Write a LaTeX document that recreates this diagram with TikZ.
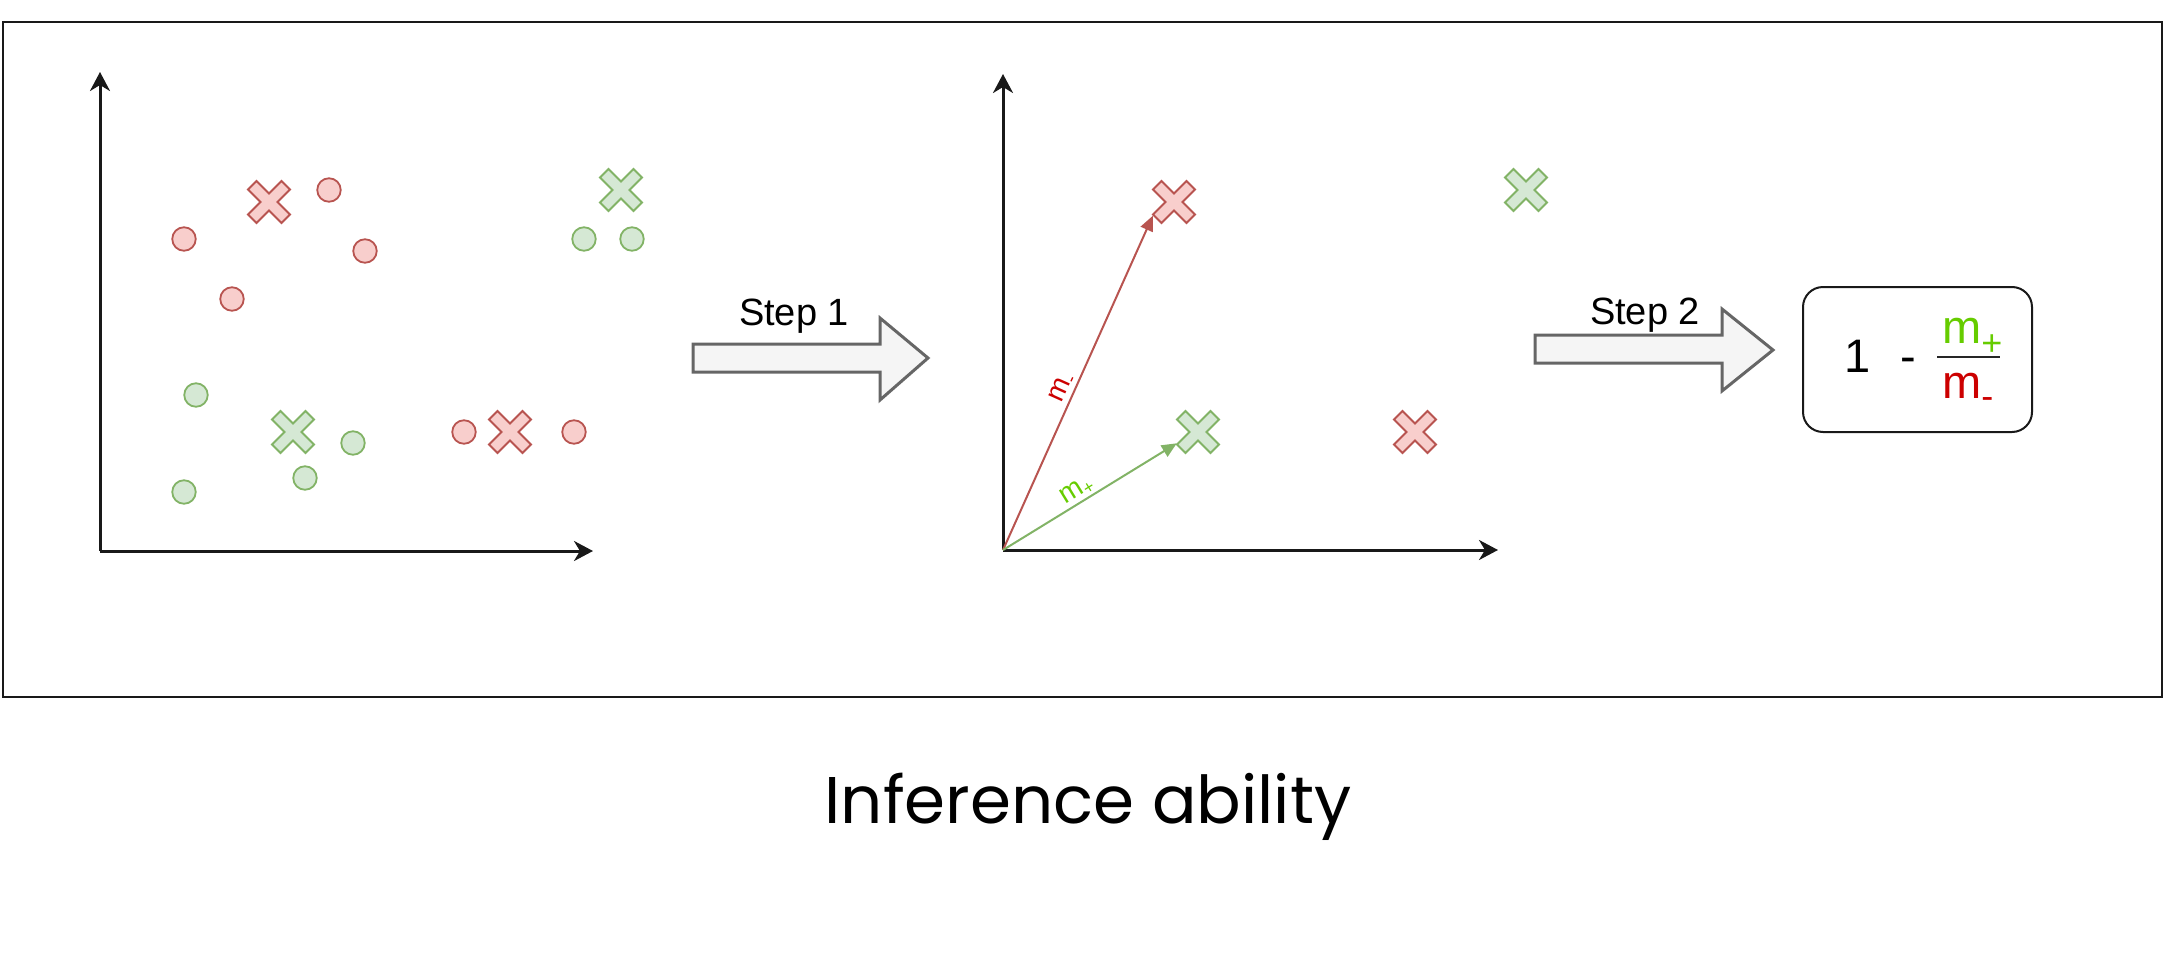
\documentclass[tikz,border=0pt]{standalone}
\usepackage{fontspec}
\setmainfont{Liberation Sans}
\newfontfamily\titlefont{Poppins}
\usetikzlibrary{arrows.meta}
\definecolor{rstroke}{HTML}{B85450}
\definecolor{rfill}{HTML}{F8CECC}
\definecolor{gstroke}{HTML}{82B366}
\definecolor{gfill}{HTML}{D5E8D4}
\definecolor{mred}{HTML}{CC0000}
\definecolor{mgreen}{HTML}{66CC00}
\definecolor{arrgray}{HTML}{666666}
\definecolor{arrfill}{HTML}{F5F5F5}
\tikzset{
  xm/.pic={\path[pic actions, line width=1.8pt, line join=miter]
    (8.5,0)--(21,12.5)--(12.5,21)--(0,8.5)--(-12.5,21)--(-21,12.5)--(-8.5,0)
    --(-21,-12.5)--(-12.5,-21)--(0,-8.5)--(12.5,-21)--(21,-12.5)--cycle;},
  xbox/.style={minimum size=42pt, inner sep=0pt},
  redx/.style={draw=rstroke, fill=rfill},
  greenx/.style={draw=gstroke, fill=gfill},
  rdot/.style={circle, draw=rstroke, fill=rfill, line width=1.8pt, minimum size=23.5pt, inner sep=0pt},
  gdot/.style={circle, draw=gstroke, fill=gfill, line width=1.8pt, minimum size=23.5pt, inner sep=0pt},
  axis/.style={line width=3pt, draw=black!90, -{Stealth[length=19pt,width=20pt,inset=6pt]}},
  rvec/.style={draw=rstroke, line width=2pt, -{Triangle[length=15pt,width=13pt]}},
  gvec/.style={draw=gstroke, line width=2pt, -{Triangle[length=15pt,width=13pt]}},
  blockarrow/.style={draw=arrgray, fill=arrfill, line width=3pt, line join=miter},
  steplabel/.style={anchor=base, inner sep=0pt, font=\fontsize{38}{40}\selectfont, text=black},
  veclabel/.style={sloped, above=1pt, inner sep=0pt, font=\fontsize{28}{30}\selectfont},
  formula/.style={inner sep=0pt, font=\fontsize{47}{50}\selectfont},
  resbox/.style={draw=black!90, line width=2pt, rounded corners=20pt, minimum width=229pt, minimum height=145pt, inner sep=0pt},
}
\newcommand\xmk[3]{\node[xbox] (#1) at (#2) {}; \pic[#3] at (#1) {xm};}
\begin{document}
\begin{tikzpicture}[x=1pt, y=-1pt]
\useasboundingbox (0,0) rectangle (2172,953);
% frame
\draw[line width=2.5pt, draw=black!90] (3,22) rectangle (2162,697);

% left axes
\coordinate (o1) at (100,551);
\coordinate (y1) at (100,72);
\coordinate (x1) at (593,551);
\draw[axis] (o1) -- (y1);
\draw[axis] (o1) -- (x1);

% left points
\node[rdot] (r1) at (329,190) {};
\node[rdot] (r2) at (184,239) {};
\node[rdot] (r3) at (365,251) {};
\node[rdot] (r4) at (232,299) {};
\node[rdot] (r5) at (464,432) {};
\node[rdot] (r6) at (574,432) {};
\node[gdot] (g1) at (584,239) {};
\node[gdot] (g2) at (632,239) {};
\node[gdot] (g3) at (196,395) {};
\node[gdot] (g4) at (353,443) {};
\node[gdot] (g5) at (305,478) {};
\node[gdot] (g6) at (184,492) {};
\xmk{xa1}{269,202}{redx}
\xmk{xa2}{510,432}{redx}
\xmk{xa3}{621,190}{greenx}
\xmk{xa4}{293,432}{greenx}

% step 1
\path[blockarrow] (693,344) -- (880,344) -- (880,318) -- (928,358) -- (880,400) -- (880,372) -- (693,372) -- cycle;
\node[steplabel] (s1) at (794,325) {Step 1};

% middle axes
\coordinate (o2) at (1003,550);
\coordinate (y2) at (1003,74);
\coordinate (x2) at (1498,550);
\draw[axis] (o2) -- (y2);
\draw[axis] (o2) -- (x2);

\xmk{xb1}{1174,202}{redx}
\xmk{xb2}{1526,190}{greenx}
\xmk{xb3}{1198,432}{greenx}
\xmk{xb4}{1415,432}{redx}

\draw[rvec] (o2) -- (xb1.213) node[veclabel, pos=0.47, text=mred] (lm) {m\raisebox{-4pt}{\fontsize{18}{18}\selectfont -}};
\draw[gvec] (o2) -- (xb3.208) node[veclabel, pos=0.46, text=mgreen] (lp) {m\raisebox{-4pt}{\fontsize{18}{18}\selectfont +}};

% step 2
\path[blockarrow] (1535,335) -- (1722,335) -- (1722,309) -- (1773,350) -- (1722,391) -- (1722,363) -- (1535,363) -- cycle;
\node[steplabel] (s2) at (1645,324) {Step 2};

% result box
\node[resbox] (res) at (1917.5,359.5) {};
\node[formula, anchor=base] (one) at (1858,372) {1};
\node[formula, anchor=base] (minus) at (1908,372) {-};
\node[fill=black!85, minimum width=63pt, minimum height=2pt, inner sep=0pt] (bar) at (1968.5,357) {};
\node[formula, anchor=base west, text=mgreen] (num) at (1942,343) {m\raisebox{-12pt}{\fontsize{36}{36}\selectfont +}};
\node[formula, anchor=base west, text=mred] (den) at (1942,398) {m\raisebox{-10pt}{\fontsize{36}{36}\selectfont -}};

% title
\node[anchor=base, inner sep=0pt, font=\titlefont\fontsize{66}{70}\selectfont] (title) at (1088,823) {Inference ability};
\end{tikzpicture}
\end{document}
